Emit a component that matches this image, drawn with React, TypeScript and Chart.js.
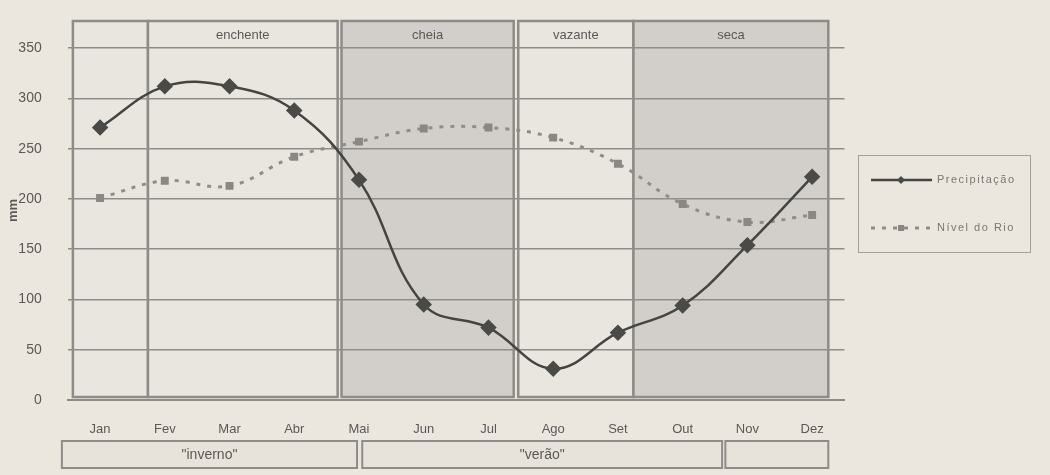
import React, { useEffect, useRef } from 'react';
import { Chart, registerables } from 'chart.js';
Chart.register(...registerables);

const months = ['Jan', 'Fev', 'Mar', 'Abr', 'Mai', 'Jun', 'Jul', 'Ago', 'Set', 'Out', 'Nov', 'Dez'];
const precipitacao = [271, 312, 312, 288, 219, 95, 72, 31, 67, 94, 154, 222];
const nivelRio = [201, 218, 213, 242, 257, 270, 271, 261, 235, 195, 177, 184];
const yMin = 0;
const yMax = 377;
const yStep = 50;

// river phases (in month-index units)
const phaseLabels = ['', 'enchente', 'cheia', 'vazante', 'seca'];
const phaseStart = [-0.42, 0.74, 3.73, 6.46, 8.24];
const phaseEnd = [0.74, 3.67, 6.39, 8.24, 11.25];
const phaseDark = [false, false, true, false, true];

// seasons (in month-index units)
const seasonLabels = ['"inverno"', '"verão"', ''];
const seasonStart = [-0.59, 4.05, 9.66];
const seasonEnd = [3.97, 9.61, 11.25];

const PAPER = '#ebe7df';
const LIGHT = '#e9e6df';
const DARK = '#d2cfca';
const BORDER = '#8e8c88';
const TEXT = '#5a5957';
const FONT = '"Liberation Sans", Arial, sans-serif';

const decorPlugin = {
  id: 'decor',
  beforeDraw(chart: any) {
    const { ctx, chartArea, scales } = chart;
    const xs = scales.x;
    ctx.save();
    ctx.fillStyle = PAPER;
    ctx.fillRect(0, 0, chart.width, chart.height);
    const top = chartArea.top;
    const bottom = chartArea.bottom - 3;
    for (let i = 0; i < phaseStart.length; i++) {
      const x0 = xs.getPixelForValue(phaseStart[i]);
      const x1 = xs.getPixelForValue(phaseEnd[i]);
      ctx.fillStyle = phaseDark[i] ? DARK : LIGHT;
      ctx.fillRect(x0, top, x1 - x0, bottom - top);
      ctx.strokeStyle = BORDER;
      ctx.lineWidth = 2.5;
      ctx.strokeRect(x0, top, x1 - x0, bottom - top);
      if (phaseLabels[i]) {
        ctx.fillStyle = TEXT;
        ctx.font = `13px ${FONT}`;
        ctx.textAlign = 'center';
        ctx.textBaseline = 'middle';
        ctx.fillText(phaseLabels[i], (x0 + x1) / 2, top + 14);
      }
    }
    ctx.restore();
  },
  afterDraw(chart: any) {
    const { ctx, scales } = chart;
    const xs = scales.x;
    ctx.save();
    // season bars
    for (let i = 0; i < seasonStart.length; i++) {
      const x0 = xs.getPixelForValue(seasonStart[i]);
      const x1 = xs.getPixelForValue(seasonEnd[i]);
      ctx.fillStyle = '#e7e3db';
      ctx.fillRect(x0, 441, x1 - x0, 27);
      ctx.strokeStyle = BORDER;
      ctx.lineWidth = 2;
      ctx.strokeRect(x0, 441, x1 - x0, 27);
      if (seasonLabels[i]) {
        ctx.fillStyle = TEXT;
        ctx.font = `14px ${FONT}`;
        ctx.textAlign = 'center';
        ctx.textBaseline = 'middle';
        ctx.fillText(seasonLabels[i], (x0 + x1) / 2, 455);
      }
    }
    // legend
    ctx.strokeStyle = '#a3a19c';
    ctx.lineWidth = 1;
    ctx.strokeRect(858.5, 155.5, 172, 97);
    const ds = chart.data.datasets;
    const rows = [180, 228];
    ds.forEach((d: any, i: number) => {
      const y = rows[i];
      ctx.strokeStyle = d.borderColor;
      ctx.lineWidth = d.borderWidth;
      ctx.setLineDash(d.borderDash || []);
      ctx.beginPath();
      ctx.moveTo(871, y);
      ctx.lineTo(932, y);
      ctx.stroke();
      ctx.setLineDash([]);
      ctx.fillStyle = d.pointBackgroundColor;
      const cx = 901;
      if (d.pointStyle === 'rectRot') {
        ctx.beginPath();
        ctx.moveTo(cx, y - 4);
        ctx.lineTo(cx + 4, y);
        ctx.lineTo(cx, y + 4);
        ctx.lineTo(cx - 4, y);
        ctx.closePath();
        ctx.fill();
      } else {
        ctx.fillRect(cx - 3, y - 3, 6, 6);
      }
      ctx.fillStyle = '#7a7875';
      ctx.font = `11px ${FONT}`;
      try { (ctx as any).letterSpacing = '1.5px'; } catch (e) {}
      ctx.textAlign = 'left';
      ctx.textBaseline = 'middle';
      ctx.fillText(d.label, 937, y);
      try { (ctx as any).letterSpacing = '0px'; } catch (e) {}
    });
    ctx.restore();
  },
};

export default function App() {
  const ref = useRef<HTMLCanvasElement | null>(null);
  useEffect(() => {
    if (!ref.current) return;
    const chart = new Chart(ref.current, {
      type: 'line',
      data: {
        labels: months,
        datasets: [
          {
            label: 'Precipitação',
            data: precipitacao,
            borderColor: '#444442',
            borderWidth: 2.5,
            pointStyle: 'rectRot',
            pointRadius: 6.5,
            pointBackgroundColor: '#4a4a47',
            pointBorderColor: '#4a4a47',
            tension: 0.4,
            fill: false,
          },
          {
            label: 'Nível do Rio',
            data: nivelRio,
            borderColor: '#8f8d89',
            borderWidth: 3,
            borderDash: [4, 7],
            pointStyle: 'rect',
            pointRadius: 3.5,
            pointBackgroundColor: '#8a8884',
            pointBorderColor: '#8a8884',
            tension: 0.4,
            fill: false,
          },
        ],
      },
      options: {
        animation: false,
        responsive: false,
        layout: { padding: { top: 21, right: 205.5, left: 0, bottom: 0 } },
        plugins: { legend: { display: false }, tooltip: { enabled: false } },
        scales: {
          x: {
            offset: true,
            afterFit: (s: any) => { s.height = 75; s.paddingTop = 0; s.paddingBottom = 0; },
            grid: { display: false, drawTicks: false, offset: true },
            border: { display: true, color: BORDER, width: 2 },
            ticks: { color: TEXT, font: { family: FONT, size: 13 }, padding: 22, maxRotation: 0 },
          },
          y: {
            min: yMin,
            max: yMax,
            afterFit: (s: any) => { s.width = 67.7; s.paddingTop = 0; s.paddingBottom = 0; },
            grid: { color: '#8f8d89', lineWidth: 1.5, drawTicks: false },
            border: { display: false },
            ticks: { stepSize: yStep, includeBounds: false, color: TEXT, font: { family: FONT, size: 14 }, padding: 26 },
            title: { display: true, text: 'mm', color: TEXT, font: { family: FONT, size: 13, weight: 'bold' }, padding: { top: 6, bottom: 0 } },
          },
        },
      },
      plugins: [decorPlugin],
    });
    return () => chart.destroy();
  }, []);
  return (
    <div style={{ position: 'absolute', left: 0, top: 0, width: 1050, height: 475, background: PAPER }}>
      <canvas ref={ref} width={1050} height={475} style={{ width: 1050, height: 475 }} />
    </div>
  );
}
